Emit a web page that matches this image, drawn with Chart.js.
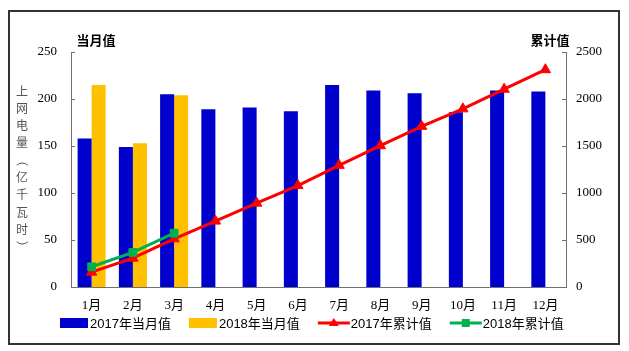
<!DOCTYPE html>
<html>
<head>
<meta charset="utf-8">
<script src="https://cdn.jsdelivr.net/npm/chart.js@4.4.1/dist/chart.umd.min.js"></script>
<style>
  html, body { margin: 0; padding: 0; background: #fff; }
  #wrap { position: relative; width: 629px; height: 351px; }
</style>
</head>
<body>
<div id="wrap"><canvas id="chart"></canvas></div>
<script>
// data (亿千瓦时)
const months = ["1月","2月","3月","4月","5月","6月","7月","8月","9月","10月","11月","12月"];
const monthly2017 = [158, 149, 205, 189, 191, 187, 215, 209, 206, 186, 209, 208];
const monthly2018 = [215, 153, 204];
const cumulative2017 = [158, 307, 512, 701, 892, 1079, 1294, 1503, 1709, 1895, 2104, 2312];
const cumulative2018 = [215, 368, 572];
const seriesNames = ["2017年当月值", "2018年当月值", "2017年累计值", "2018年累计值"];
const leftTitle = "当月值";
const rightTitle = "累计值";
const yLabel = "上网电量（亿千瓦时）";

const BLUE = "#0000CC", ORANGE = "#FFC000", RED = "#FF0000", GREEN = "#00B050";
const AXIS = "#707070";
const serif = '"Liberation Serif", "Noto Sans CJK SC", serif';
const cjk = '"Liberation Sans", "Noto Sans CJK SC", sans-serif';

// extras: frame, titles, inward tick marks, vertical label, legend
const decor = {
  id: "decor",
  afterDatasetsDraw(chart) {
    const ctx = chart.ctx;
    const ys = [chart.scales.y, chart.scales.y1];
    ctx.save();
    ctx.strokeStyle = AXIS;
    ctx.lineWidth = 1;
    ys.forEach((s, i) => {
      s.ticks.forEach((t, k) => {
        const py = Math.round(s.getPixelForTick(k)) + 0.5;
        const x0 = i === 0 ? chart.chartArea.left : chart.chartArea.right;
        ctx.beginPath();
        ctx.moveTo(x0, py);
        ctx.lineTo(i === 0 ? x0 + 4 : x0 - 4, py);
        ctx.stroke();
      });
    });
    ctx.restore();
  },
  afterDraw(chart) {
    const ctx = chart.ctx;
    ctx.save();
    // frame
    ctx.strokeStyle = "#333";
    ctx.lineWidth = 2;
    ctx.strokeRect(9, 11, 610, 333);

    // axis titles
    ctx.fillStyle = "#000";
    ctx.font = 'bold 13px "Noto Sans CJK SC", sans-serif';
    ctx.textBaseline = "middle";
    ctx.textAlign = "center";
    ctx.fillText(leftTitle, 96, 40);
    ctx.fillText(rightTitle, 550, 40);

    // vertical label
    ctx.fillStyle = "#555";
    ctx.font = '12px "Noto Sans CJK SC", sans-serif';
    const chars = Array.from(yLabel);
    chars.forEach((ch, i) => {
      const y = 91 + i * 17.3;
      if (ch === "（" || ch === "）") {
        ctx.save();
        ctx.translate(22, y);
        ctx.rotate(Math.PI / 2);
        ctx.fillText(ch, 0, 0);
        ctx.restore();
      } else {
        ctx.fillText(ch, 22, y);
      }
    });

    // legend
    ctx.font = "13px " + cjk;
    ctx.fillStyle = "#000";
    ctx.textAlign = "left";
    const ly = 323;
    const kinds = [
      { color: BLUE, type: "bar" },
      { color: ORANGE, type: "bar" },
      { color: RED, type: "line", marker: "triangle" },
      { color: GREEN, type: "line", marker: "rect" }
    ];
    let x = 60;
    kinds.forEach((k, i) => {
      if (k.type === "bar") {
        ctx.fillStyle = k.color;
        ctx.fillRect(x, ly - 5, 28, 10);
        x += 30;
      } else {
        ctx.strokeStyle = k.color;
        ctx.lineWidth = 3;
        ctx.beginPath();
        ctx.moveTo(x, ly);
        ctx.lineTo(x + 32, ly);
        ctx.stroke();
        ctx.fillStyle = k.color;
        ctx.beginPath();
        if (k.marker === "triangle") {
          ctx.moveTo(x + 16, ly - 5);
          ctx.lineTo(x + 21, ly + 3);
          ctx.lineTo(x + 11, ly + 3);
        } else {
          ctx.rect(x + 12, ly - 4, 8, 8);
        }
        ctx.closePath();
        ctx.fill();
        x += 33;
      }
      ctx.fillStyle = "#000";
      ctx.fillText(seriesNames[i], x, ly + 1);
      x += ctx.measureText(seriesNames[i]).width + 18;
    });
    ctx.restore();
  }
};

const plain = v => String(v);

new Chart(document.getElementById("chart"), {
  type: "bar",
  data: {
    labels: months,
    datasets: [
      { label: seriesNames[0], data: monthly2017, backgroundColor: BLUE, yAxisID: "y", order: 3 },
      { label: seriesNames[1], data: monthly2018, backgroundColor: ORANGE, yAxisID: "y", order: 3 },
      {
        type: "line", label: seriesNames[2], data: cumulative2017, yAxisID: "y1", order: 1,
        borderColor: RED, backgroundColor: RED, borderWidth: 3,
        pointStyle: "triangle", pointRadius: 6, pointBorderWidth: 1, pointBackgroundColor: RED, pointBorderColor: RED
      },
      {
        type: "line", label: seriesNames[3], data: cumulative2018, yAxisID: "y1", order: 0,
        borderColor: GREEN, backgroundColor: GREEN, borderWidth: 3,
        pointStyle: "rect", pointRadius: 5.5, pointBorderWidth: 1, pointBackgroundColor: GREEN, pointBorderColor: GREEN
      }
    ]
  },
  options: {
    responsive: true,
    maintainAspectRatio: false,
    animation: false,
    layout: { padding: { top: 52, bottom: 34, left: 0, right: 0 } },
    categoryPercentage: 0.68,
    barPercentage: 1,
    plugins: { legend: { display: false }, tooltip: { enabled: false } },
    scales: {
      x: {
        grid: { display: false, drawTicks: false },
        border: { display: true, color: AXIS, width: 1 },
        ticks: { color: "#000", font: { family: serif, size: 13 }, padding: 11, maxRotation: 0 },
        afterFit(s) { s.height = 30; }
      },
      y: {
        position: "left", min: 0, max: 250,
        grid: { display: false, drawTicks: false },
        border: { display: true, color: AXIS, width: 1 },
        ticks: { stepSize: 50, color: "#000", font: { family: serif, size: 13 }, padding: 14, callback: plain },
        afterFit(s) { s.width = 71; }
      },
      y1: {
        position: "right", min: 0, max: 2500,
        grid: { display: false, drawTicks: false },
        border: { display: true, color: AXIS, width: 1 },
        ticks: { stepSize: 500, color: "#000", font: { family: serif, size: 13 }, padding: 10, callback: plain },
        afterFit(s) { s.width = 63; }
      }
    }
  },
  plugins: [decor]
});
</script>
</body>
</html>
